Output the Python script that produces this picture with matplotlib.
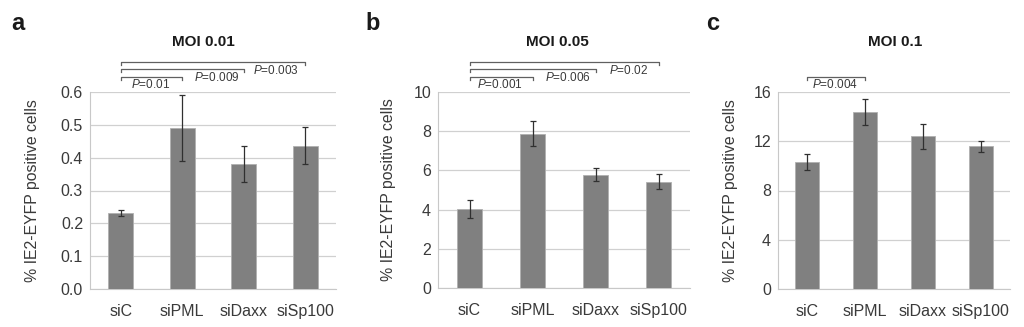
import matplotlib
matplotlib.use("Agg")
import matplotlib.pyplot as plt

plt.rcParams['font.family'] = ['Liberation Sans', 'DejaVu Sans']
plt.rcParams['mathtext.fontset'] = 'custom'
plt.rcParams['mathtext.it'] = 'Liberation Sans:italic'
plt.rcParams['mathtext.rm'] = 'Liberation Sans'

categories = ["siC", "siPML", "siDaxx", "siSp100"]

titles = ["MOI 0.01", "MOI 0.05", "MOI 0.1"]
panel_letters = ["a", "b", "c"]

values_a = [0.231, 0.491, 0.381, 0.437]
errors_a = [0.010, 0.100, 0.054, 0.055]
values_b = [4.02, 7.88, 5.78, 5.42]
errors_b = [0.45, 0.63, 0.34, 0.38]
values_c = [10.32, 14.35, 12.40, 11.60]
errors_c = [0.68, 1.05, 1.03, 0.45]

yticks_a = [0.0, 0.1, 0.2, 0.3, 0.4, 0.5, 0.6]
ytick_labels_a = ["0.0", "0.1", "0.2", "0.3", "0.4", "0.5", "0.6"]
yticks_b = [0, 2, 4, 6, 8, 10]
yticks_c = [0, 4, 8, 12, 16]

# significance: (compared category index, p-label)
sig_a = [(1, "0.01"), (2, "0.009"), (3, "0.003")]
sig_b = [(1, "0.001"), (2, "0.006"), (3, "0.02")]
sig_c = [(1, "0.004")]

ylabel = "% IE2-EYFP positive cells"

W, H = 1024, 327
fig = plt.figure(figsize=(W / 100, H / 100), dpi=100)

def px_axes(x0, x1, ytop, ybot):
    return fig.add_axes([x0 / W, 1 - ybot / H, (x1 - x0) / W, (ybot - ytop) / H])

panels = [
    dict(vals=values_a, errs=errors_a, ticks=yticks_a, tlabels=ytick_labels_a, ymax=0.6,
         box=(90, 336, 92, 289), sig=sig_a, title_x=203, letter_x=18, ylabel_x=33),
    dict(vals=values_b, errs=errors_b, ticks=yticks_b, tlabels=[str(t) for t in yticks_b], ymax=10,
         box=(438, 690, 92, 288), sig=sig_b, title_x=557, letter_x=373, ylabel_x=388),
    dict(vals=values_c, errs=errors_c, ticks=yticks_c, tlabels=[str(t) for t in yticks_c], ymax=16,
         box=(778, 1010, 92, 289), sig=sig_c, title_x=895, letter_x=713, ylabel_x=730),
]

bracket_y_px = [76.7, 69.0, 61.7]
label_y_px = [85.0, 77.5, 70.0]

text_col = "#3a3a3a"
for i, p in enumerate(panels):
    x0, x1, yt, yb = p["box"]
    ax = px_axes(x0, x1, yt, yb)
    xs = list(range(len(categories)))
    ax.bar(xs, p["vals"], width=0.41, color="#808080", edgecolor="#b0b0b0", linewidth=0.6, zorder=3)
    ax.errorbar(xs, p["vals"], yerr=p["errs"], fmt="none", ecolor="#303030",
                elinewidth=0.9, capsize=2.5, capthick=0.9, zorder=4)
    ax.set_xlim(-0.5, len(categories) - 0.5)
    ax.set_ylim(0, p["ymax"])
    ax.set_yticks(p["ticks"])
    ax.set_yticklabels(p["tlabels"])
    ax.set_xticks(xs)
    ax.set_xticklabels(categories)
    ax.yaxis.grid(True, color="#d0d0d0", linewidth=0.9, zorder=0)
    ax.set_axisbelow(True)
    for s in ["top", "right"]:
        ax.spines[s].set_visible(False)
    ax.spines["left"].set_color("#c8c8c8")
    ax.spines["bottom"].set_color("#c8c8c8")
    ax.tick_params(axis="both", length=0, labelsize=11.5, colors=text_col)
    ax.tick_params(axis="x", pad=11)
    ax.tick_params(axis="y", pad=5)

    fig.text(p["ylabel_x"] / W, 1 - ((yt + yb) / 2) / H, ylabel, rotation=90,
             ha="center", va="center", fontsize=11.4, color=text_col)
    fig.text(p["title_x"] / W, 1 - 42 / H, titles[i], ha="center", va="center",
             fontsize=11, fontweight="bold", color="#1a1a1a")
    fig.text(p["letter_x"] / W, 1 - 24 / H, panel_letters[i], ha="center", va="center",
             fontsize=17, fontweight="bold", color="#1a1a1a")

    trans = ax.get_xaxis_transform()
    def ypx(v):
        return (yb - v) / (yb - yt)
    for j, (k, plab) in enumerate(p["sig"]):
        yl = ypx(bracket_y_px[j])
        tick = 3.0 / (yb - yt)
        ax.plot([0, 0, k, k], [yl - tick, yl, yl, yl - tick], color="#606060",
                linewidth=0.9, transform=trans, clip_on=False)
        if j == 0:
            lx = 0.48 * k
        elif j == 1:
            lx = k - 0.44
        else:
            lx = k - 0.48
        ax.text(lx, ypx(label_y_px[j]), r"$\it{P}$=" + plab, transform=trans,
                ha="center", va="center", fontsize=8.5, color=text_col, clip_on=False)

fig.savefig("out.png", dpi=100)
